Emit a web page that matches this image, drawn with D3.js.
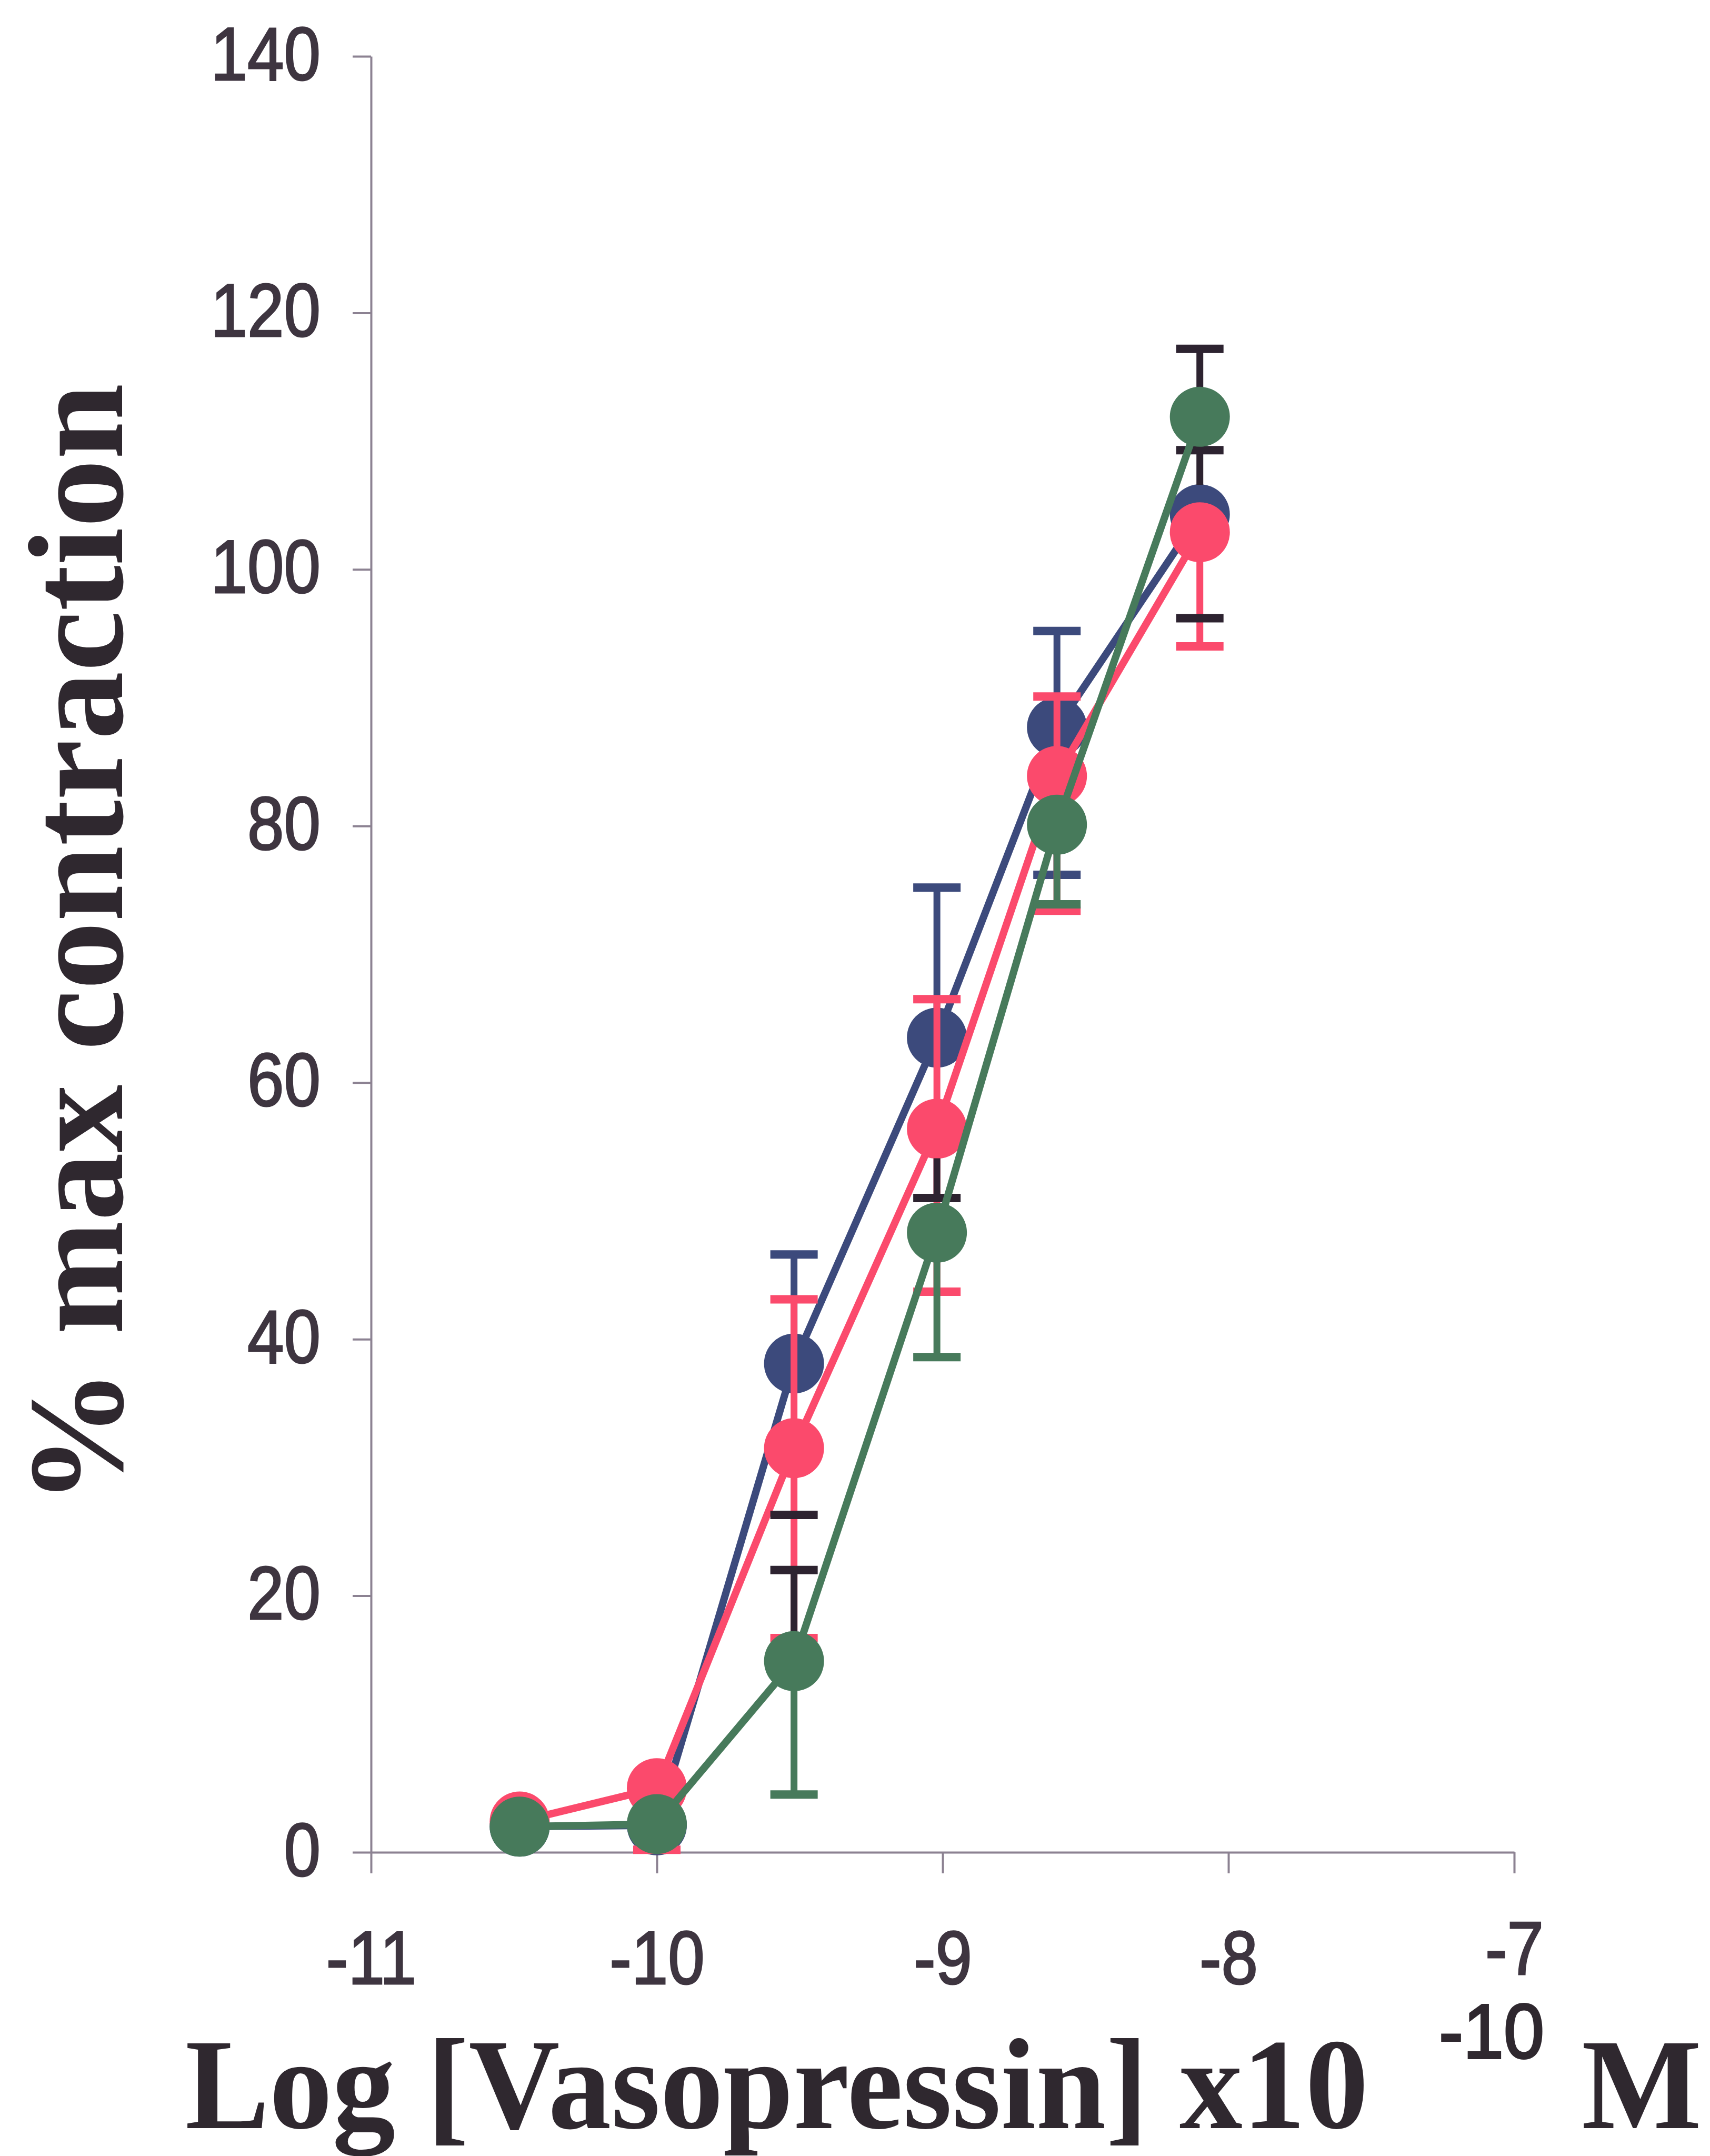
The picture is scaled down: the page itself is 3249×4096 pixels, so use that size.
<!DOCTYPE html>
<html>
  <head>
    <meta charset="utf-8" />
    <title>Vasopressin contraction</title>
    <script src="https://d3js.org/d3.v7.min.js"></script>
    <style>
      body {
        margin: 0;
        background: #fff;
      }
      svg {
        display: block;
        background: #fff;
      }
      .axis path, .axis line {
        stroke: #8c8292;
        stroke-width: 4;
      }
      .axis text {
        font-family: "Liberation Sans", Arial, sans-serif;
        font-size: 142px;
        fill: #3e3540;
        stroke: #3e3540;
        stroke-width: 3;
      }
      .title {
        font-family: "Liberation Serif", "Times New Roman", serif;
        font-weight: bold;
        fill: #2f282f;
      }
    </style>
  </head>
  <body>
    <svg width="3249" height="4096"></svg>

    <script>
      // log dose (M) of each point
      const doses = [-10.48, -10, -9.52, -9.02, -8.6, -8.1];
      const xTicks = [-11, -10, -9, -8, -7];
      const yTicks = [0, 20, 40, 60, 80, 100, 120, 140];

      // % max contraction, with visible error bar ends
      const blueMean = [2.0, 2.1, 38.1, 63.5, 87.7, 104.3];
      const blueHigh = [null, null, 46.6, 75.2, 95.2, null];
      const blueLow = [null, null, null, null, 76.2, null];

      const redMean = [2.4, 5.0, 31.5, 56.4, 83.9, 102.9];
      const redHigh = [null, null, 43.1, 66.5, 90.1, null];
      const redLow = [null, 0.2, 16.7, 43.7, 73.4, 94.0];

      const greenMean = [2.0, 2.2, 14.9, 48.3, 80.1, 111.9];
      const greenHigh = [null, null, null, null, null, null];
      const greenLow = [null, null, 4.5, 38.6, 73.9, null];

      // error bars printed in dark ink
      const inkDose = [-9.52, -9.52, -9.02, -8.1, -8.1, -8.1];
      const inkFrom = [26.3, 14.9, 54.1, 111.9, 106.6, 96.2];
      const inkTo = [26.3, 22.0, 51.0, 117.2, 109.3, 96.2];

      const svg = d3.select("svg");

      const x = d3.scaleLinear().domain([-11, -7]).range([705, 2877]);
      const y = d3.scaleLinear().domain([0, 140]).range([3519, 107]);

      const R = 57;        // marker radius
      const CAP = 45;      // half cap width
      const labelScale = 0.88;

      // axes
      const yAxis = svg.append("g")
        .attr("class", "axis")
        .attr("transform", `translate(${x(-11)},0)`)
        .call(d3.axisLeft(y).tickValues(yTicks).tickFormat(d => String(d))
          .tickSize(35).tickSizeOuter(0).tickPadding(61));
      yAxis.selectAll("text")
        .attr("x", -96 / labelScale)
        .attr("dy", "0.31em")
        .attr("transform", `scale(${labelScale},1)`);

      const xAxis = svg.append("g")
        .attr("class", "axis")
        .attr("transform", `translate(0,${y(0)})`)
        .call(d3.axisBottom(x).tickValues(xTicks).tickFormat(d => String(d))
          .tickSize(40).tickSizeOuter(0));
      xAxis.selectAll("text")
        .attr("y", d => d === -7 ? 232 : 250)
        .attr("dy", null)
        .attr("transform", `scale(${labelScale},1)`);

      const series = [
        { mean: blueMean, high: blueHigh, low: blueLow, color: "#3c4a7c" },
        { mean: redMean, high: redHigh, low: redLow, color: "#fb4a6c" },
        { mean: greenMean, high: greenHigh, low: greenLow, color: "#477a5b" }
      ];

      const plot = svg.append("g");
      const line = d3.line().x(d => x(d[0])).y(d => y(d[1]));

      function whisker(g, dose, from, to, color) {
        g.append("line")
          .attr("x1", x(dose)).attr("x2", x(dose))
          .attr("y1", y(from)).attr("y2", y(to))
          .attr("stroke", color).attr("stroke-width", 13);
        g.append("line")
          .attr("x1", x(dose) - CAP).attr("x2", x(dose) + CAP)
          .attr("y1", y(to)).attr("y2", y(to))
          .attr("stroke", color).attr("stroke-width", 16);
      }

      function drawSeries(s) {
        const g = plot.append("g");
        const pts = doses.map((d, i) => [d, s.mean[i]]);
        g.append("path")
          .attr("d", line(pts))
          .attr("fill", "none")
          .attr("stroke", s.color)
          .attr("stroke-width", 14)
          .attr("stroke-linejoin", "round");
        doses.forEach((d, i) => {
          if (s.high[i] != null) whisker(g, d, s.mean[i], s.high[i], s.color);
          if (s.low[i] != null) whisker(g, d, s.mean[i], s.low[i], s.color);
        });
        g.selectAll("circle")
          .data(pts)
          .join("circle")
          .attr("cx", d => x(d[0]))
          .attr("cy", d => y(d[1]))
          .attr("r", R)
          .attr("fill", s.color);
      }

      drawSeries(series[0]);
      drawSeries(series[1]);

      // dark ink bars sit above red, below green
      const ink = plot.append("g");
      inkDose.forEach((d, i) => whisker(ink, d, inkFrom[i], inkTo[i], "#2d2330"));

      drawSeries(series[2]);

      // axis titles
      svg.append("text")
        .attr("class", "title")
        .attr("transform", "translate(232,1794) rotate(-90)")
        .attr("text-anchor", "middle")
        .attr("font-size", 258)
        .attr("textLength", 2131)
        .attr("lengthAdjust", "spacingAndGlyphs")
        .text("% max contraction");

      svg.append("text")
        .attr("class", "title")
        .attr("x", 352)
        .attr("y", 4043)
        .attr("font-size", 245)
        .attr("textLength", 2248)
        .attr("lengthAdjust", "spacingAndGlyphs")
        .text("Log [Vasopressin] x10");

      svg.append("text")
        .attr("x", 2734)
        .attr("y", 3910)
        .attr("font-family", "Liberation Sans, Arial, sans-serif")
        .attr("font-size", 146)
        .attr("fill", "#2f282f")
        .attr("stroke", "#2f282f")
        .attr("stroke-width", 4)
        .attr("textLength", 200)
        .attr("lengthAdjust", "spacingAndGlyphs")
        .text("-10");

      svg.append("text")
        .attr("class", "title")
        .attr("x", 3005)
        .attr("y", 4043)
        .attr("font-size", 245)
        .attr("textLength", 228)
        .attr("lengthAdjust", "spacingAndGlyphs")
        .text("M");
    </script>
  </body>
</html>
